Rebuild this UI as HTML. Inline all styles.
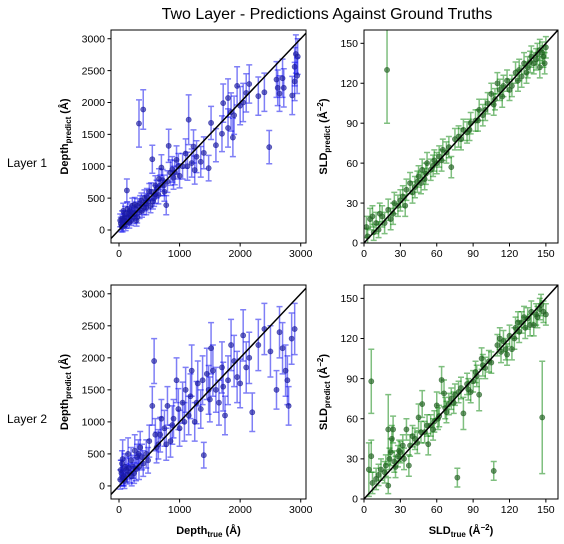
<!DOCTYPE html>
<html><head><meta charset="utf-8">
<style>
html,body{margin:0;padding:0;background:#fff;}
svg{display:block;font-family:"Liberation Sans","DejaVu Sans",sans-serif;}
</style></head>
<body>
<svg id="fig" width="564" height="544" viewBox="0 0 564 544" xmlns="http://www.w3.org/2000/svg">
<text x="327" y="19" text-anchor="middle" font-size="16">Two Layer - Predictions Against Ground Truths</text>
<text x="7" y="167" font-size="12">Layer 1</text>
<text x="7" y="423" font-size="12">Layer 2</text>
</svg>
<script>
// Layer 1 depth: [true, predict, error]
const depthL1 = [[30,100,100],[50,180,120],[60,50,80],[80,150,100],[100,250,120],[120,120,90],[130,620,180],[150,200,100],[180,300,110],[200,150,80],[220,380,120],[250,250,100],[280,330,110],[300,200,90],[330,1670,370],[350,420,120],[380,300,100],[400,1890,310],[420,500,130],[450,350,110],[480,450,120],[500,600,130],[520,380,110],[550,1110,220],[580,500,130],[600,700,150],[650,550,140],[700,980,200],[720,780,170],[750,600,150],[780,390,150],[820,1320,260],[850,900,200],[900,820,180],[950,1100,220],[1000,850,190],[1050,1000,200],[1100,1200,230],[1150,1730,390],[1200,1050,220],[1230,1310,260],[1280,1150,250],[1350,1070,240],[1400,1210,250],[1480,970,200],[1520,1680,260],[1600,1330,260],[1700,1510,280],[1720,1990,300],[1800,2070,300],[1850,1850,300],[1880,1450,300],[1950,2260,300],[2000,1950,300],[2100,2150,300],[2150,2290,300],[2300,2100,300],[2400,2160,300],[2480,1300,260],[2600,2360,280],[2650,2140,280],[2700,2380,300],[2860,2110,300],[2900,2560,300],[2920,2760,300],[2950,2720,280],[2940,2420,280],[70,300,120],[110,80,90],[160,260,100],[240,200,100],[310,380,110],[440,420,120],[600,560,140],[680,700,160],[880,950,200],[20,150,100],[40,60,90],[90,200,100],[140,330,110],[170,120,90],[190,230,100],[210,280,100],[260,400,110],[290,150,90],[340,280,100],[370,460,120],[410,350,110],[460,520,130],[530,600,140],[560,450,120],[620,640,140],[660,800,160],[740,700,160],[800,760,170],[920,900,190],[980,1000,200],[1130,1000,220],[1250,940,220],[1800,1600,300],[1900,1800,300],[2050,2000,300],[2620,2230,280],[2720,2230,300],[2900,2330,300]];
const depthL2 = [[20,100,150],[40,200,200],[60,420,300],[80,150,150],[100,300,200],[120,250,180],[150,500,250],[180,200,150],[200,400,200],[230,300,180],[260,550,250],[300,450,200],[350,600,250],[400,350,200],[450,500,220],[500,700,250],[550,1250,300],[580,1950,350],[600,800,250],[650,650,230],[700,1050,300],[750,900,280],[800,1250,300],[850,700,250],[900,1050,300],[950,1650,350],[1000,900,280],[1050,1300,320],[1100,1500,350],[1150,1100,300],[1200,1800,400],[1250,1000,300],[1300,1600,350],[1350,1200,300],[1400,480,200],[1450,1750,400],[1500,1350,350],[1520,2150,400],[1600,1500,350],[1700,1850,400],[1750,1100,300],[1800,1650,380],[1850,2200,400],[1900,1950,400],[2000,1600,380],[2050,2350,400],[2100,1850,400],[2200,1150,300],[2300,2200,400],[2400,2450,400],[2500,2100,400],[2600,1500,300],[2650,2400,400],[2750,1800,400],[2800,1250,300],[2850,2300,400],[2900,2450,400],[30,250,150],[70,120,120],[140,180,150],[210,150,150],[280,260,180],[330,300,200],[50,350,200],[90,80,120],[160,280,170],[250,200,160],[320,500,220],[380,450,200],[480,400,200],[620,600,240],[680,800,270],[780,650,250],[880,950,300],[980,1200,320],[1080,1000,300],[1180,1400,350],[1280,1300,330],[1380,1650,380],[1480,1500,380],[1550,1800,400],[1650,1300,350],[1720,1550,380],[1950,1700,400],[2150,2000,400],[2700,2150,400],[2780,1650,380]];
const sldL1 = [[2,12,8],[5,18,8],[8,8,6],[10,15,8],[13,22,8],[15,20,8],[19,130,40],[20,25,8],[25,30,8],[28,28,8],[32,35,8],[35,40,8],[38,45,8],[42,42,8],[45,50,8],[48,55,8],[50,48,8],[52,60,8],[55,55,8],[58,62,8],[62,65,8],[65,70,8],[68,68,8],[72,57,8],[75,78,8],[78,80,8],[82,85,8],[85,83,8],[88,90,8],[92,92,8],[95,100,8],[98,96,8],[102,105,8],[105,112,8],[108,108,8],[112,115,8],[115,118,8],[118,122,8],[122,118,8],[125,128,8],[128,130,8],[132,135,8],[135,132,8],[138,140,8],[140,135,8],[143,142,8],[145,145,8],[148,140,8],[150,147,8],[130,125,8],[110,120,8],[60,60,8],[40,38,8],[22,18,8],[145,132,8],[3,5,6],[7,20,8],[12,10,6],[17,15,8],[24,22,8],[30,32,8],[34,28,8],[44,46,8],[47,45,8],[51,52,8],[57,58,8],[64,62,8],[70,72,8],[80,78,8],[87,85,8],[94,92,8],[100,100,8],[107,104,8],[114,110,8],[120,115,8],[127,122,8],[134,128,8],[137,136,8],[142,138,8],[147,143,8],[149,135,8]];
const sldL2 = [[4,22,20],[6,88,24],[6,32,12],[7,12,8],[10,15,8],[14,22,8],[17,20,8],[20,10,6],[20,52,26],[22,35,10],[23,45,10],[24,52,10],[25,28,8],[28,32,8],[30,35,8],[32,40,8],[35,52,8],[37,25,8],[40,47,8],[42,45,8],[45,61,10],[48,71,10],[50,50,8],[53,41,8],[55,55,8],[58,58,8],[60,70,10],[62,62,8],[64,89,10],[66,79,10],[68,65,8],[70,71,8],[72,75,8],[75,78,8],[77,16,7],[80,83,8],[82,64,12],[85,86,8],[88,80,8],[90,88,8],[93,92,8],[95,78,12],[97,105,8],[100,98,8],[103,103,8],[107,21,7],[110,115,8],[113,110,8],[115,118,8],[118,108,8],[120,122,8],[122,112,8],[125,128,8],[128,125,8],[130,132,8],[133,128,8],[135,135,8],[138,140,8],[140,130,8],[142,138,8],[145,142,8],[147,61,42],[148,140,8],[150,138,8],[12,18,8],[18,25,8],[21,30,8],[26,24,8],[29,36,8],[33,30,8],[38,40,8],[44,42,8],[47,50,8],[52,55,8],[57,52,8],[61,60,8],[67,68,8],[74,72,8],[78,80,8],[86,82,8],[92,95,8],[98,100,8],[105,102,8],[112,120,8],[117,112,8],[124,120,8],[127,132,8],[132,136,8],[137,130,8],[143,136,8],[146,145,8]];
const depthTicksX = [0,1000,2000,3000];
const depthTicksY = [0,500,1000,1500,2000,2500,3000];
const sldTicks = [0,30,60,90,120,150];

const NS = "http://www.w3.org/2000/svg";
const svg = document.getElementById('fig');
function mk(tag, attrs, parent){const e=document.createElementNS(NS,tag);for(const k in attrs)e.setAttribute(k,attrs[k]);(parent||svg).appendChild(e);return e;}

function panel(name, box, xd, yd, data, color, dark, xt, yt, ylab, xlab){
  const g = mk('g',{});
  
  
  const sx = v => box.x + (v - xd[0])/(xd[1]-xd[0])*box.w;
  const sy = v => box.y + box.h - (v - yd[0])/(yd[1]-yd[0])*box.h;
  const clip = mk('clipPath',{id:name+'-clip'},g);
  mk('rect',{x:box.x,y:box.y,width:box.w,height:box.h},clip);
  const pg = mk('g',{'clip-path':'url(#'+name+'-clip)'},g);
  data.forEach(d=>{
    const x=sx(d[0]), y1=sy(d[1]-d[2]), y2=sy(d[1]+d[2]);
    const eb = mk('path',{d:`M${x},${y1}V${y2}M${x-3},${y1}H${x+3}M${x-3},${y2}H${x+3}`,stroke:color,'stroke-opacity':0.5,'stroke-width':1.5,fill:'none'},pg);
    
    
  });
  data.forEach(d=>{
    const c = mk('circle',{cx:sx(d[0]),cy:sy(d[1]),r:2.6,fill:dark,'fill-opacity':0.65,stroke:dark,'stroke-opacity':0.7,'stroke-width':0.6},pg);
    
    
  });
  const lo=Math.min(xd[0],yd[0]), hi=Math.max(xd[1],yd[1]);
  const ln = mk('line',{x1:sx(lo),y1:sy(lo),x2:sx(hi),y2:sy(hi),stroke:'#000','stroke-width':1.5},pg);
  
  
  const fr = mk('rect',{x:box.x,y:box.y,width:box.w,height:box.h,fill:'none',stroke:'#000','stroke-width':1},g);
  
  
  xt.forEach(t=>{
    const x=sx(t);
    mk('line',{x1:x,y1:box.y+box.h,x2:x,y2:box.y+box.h+3.5,stroke:'#000'},g);
    const tx = mk('text',{x:x,y:box.y+box.h+14,'text-anchor':'middle','font-size':10.5},g);
    tx.textContent=t;
    
    
  });
  yt.forEach(t=>{
    const y=sy(t);
    mk('line',{x1:box.x,y1:y,x2:box.x-3.5,y2:y,stroke:'#000'},g);
    const tx = mk('text',{x:box.x-6,y:y+3.7,'text-anchor':'end','font-size':10.5},g);
    tx.textContent=t;
    
    
  });
  const yl = mk('text',{x:0,y:0,transform:`translate(${ylab.x},${box.y+box.h/2}) rotate(-90)`,'text-anchor':'middle','font-size':11,'font-weight':'bold'},g);
  yl.innerHTML = ylab.html;
  
  
  if(xlab){
    const xl = mk('text',{x:box.x+box.w/2,y:box.y+box.h+35,'text-anchor':'middle','font-size':11,'font-weight':'bold'},g);
    xl.innerHTML = xlab;
    
    
  }
}
const depthY = '<tspan>Depth</tspan><tspan font-size="8" dy="3">predict</tspan><tspan dy="-3"> (Å)</tspan>';
const sldY = '<tspan>SLD</tspan><tspan font-size="8" dy="3">predict</tspan><tspan dy="-3"> (Å</tspan><tspan font-size="8" dy="-4">−2</tspan><tspan dy="4">)</tspan>';
panel('depth-layer-1',{x:111,y:30,w:195,h:213},[-132,3087],[-204,3137],depthL1,'#0000ee','#1a1aa0',depthTicksX,depthTicksY,{x:68,html:depthY},null);
panel('sld-layer-1',{x:364,y:30,w:194,h:213},[0,160],[0,160],sldL1,'#008000','#1f5f1f',sldTicks,sldTicks,{x:327,html:sldY},null);
panel('depth-layer-2',{x:111,y:285,w:195,h:214},[-132,3087],[-204,3137],depthL2,'#0000ee','#1a1aa0',depthTicksX,depthTicksY,{x:68,html:depthY},
 '<tspan>Depth</tspan><tspan font-size="8" dy="3">true</tspan><tspan dy="-3"> (Å)</tspan>');
panel('sld-layer-2',{x:364,y:285,w:194,h:214},[0,160],[0,160],sldL2,'#008000','#1f5f1f',sldTicks,sldTicks,{x:327,html:sldY},
 '<tspan>SLD</tspan><tspan font-size="8" dy="3">true</tspan><tspan dy="-3"> (Å</tspan><tspan font-size="8" dy="-4">−2</tspan><tspan dy="4">)</tspan>');
</script>
</body></html>
